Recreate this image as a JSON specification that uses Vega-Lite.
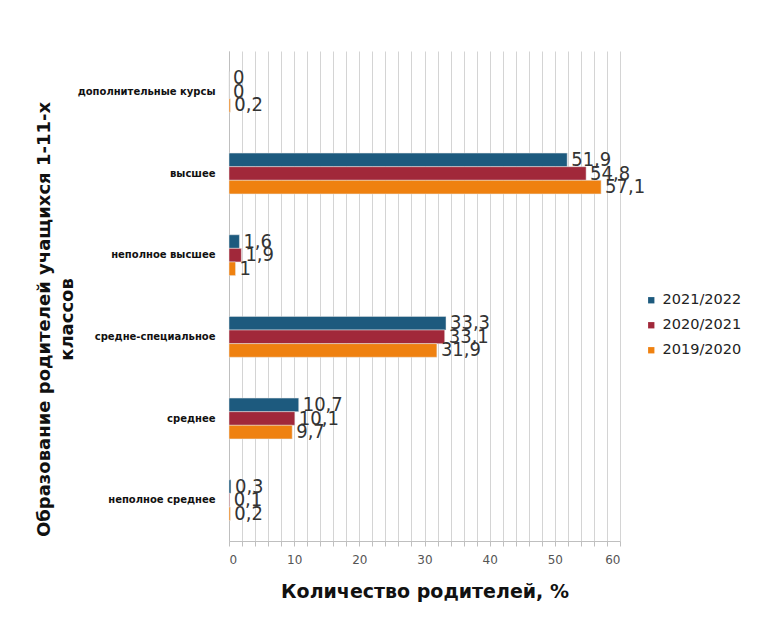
{
  "$schema": "https://vega.github.io/schema/vega-lite/v6.json",
  "width": 391,
  "height": 490,
  "autosize": {"type": "none"},
  "padding": {"left": 229, "top": 51, "right": 138, "bottom": 87},
  "background": "white",
  "config": {
    "locale": {"number": {"decimal": ",", "thousands": " ", "grouping": [3], "currency": ["", ""]}},
    "view": {"stroke": null}
  },
  "data": {
    "values": [
      {"edu": "дополнительные  курсы", "year": "2021/2022", "value": 0},
      {"edu": "дополнительные  курсы", "year": "2020/2021", "value": 0},
      {"edu": "дополнительные  курсы", "year": "2019/2020", "value": 0.2},
      {"edu": "высшее", "year": "2021/2022", "value": 51.9},
      {"edu": "высшее", "year": "2020/2021", "value": 54.8},
      {"edu": "высшее", "year": "2019/2020", "value": 57.1},
      {"edu": "неполное  высшее", "year": "2021/2022", "value": 1.6},
      {"edu": "неполное  высшее", "year": "2020/2021", "value": 1.9},
      {"edu": "неполное  высшее", "year": "2019/2020", "value": 1},
      {"edu": "средне-специальное", "year": "2021/2022", "value": 33.3},
      {"edu": "средне-специальное", "year": "2020/2021", "value": 33.1},
      {"edu": "средне-специальное", "year": "2019/2020", "value": 31.9},
      {"edu": "среднее", "year": "2021/2022", "value": 10.7},
      {"edu": "среднее", "year": "2020/2021", "value": 10.1},
      {"edu": "среднее", "year": "2019/2020", "value": 9.7},
      {"edu": "неполное  среднее", "year": "2021/2022", "value": 0.3},
      {"edu": "неполное  среднее", "year": "2020/2021", "value": 0.1},
      {"edu": "неполное  среднее", "year": "2019/2020", "value": 0.2}
    ]
  },
  "encoding": {
    "y": {
      "field": "edu",
      "type": "nominal",
      "sort": ["дополнительные  курсы", "высшее", "неполное  высшее", "средне-специальное", "среднее", "неполное  среднее"],
      "scale": {"paddingInner": 0.5, "paddingOuter": 0.25},
      "axis": {
        "title": ["Образование родителей учащихся 1-11-х", "классов"],
        "titleFont": "DejaVu Sans",
        "titleFontSize": 18,
        "titleFontWeight": "bold",
        "titleColor": "#111111",
        "titleAngle": -90,
        "titleAlign": "center",
        "titleBaseline": "top",
        "titleX": -194,
        "titleY": 268,
        "titleLineHeight": 23,
        "labelFont": "DejaVu Sans",
        "labelFontSize": 10,
        "labelFontWeight": "bold",
        "labelColor": "#111111",
        "labelPadding": 14,
        "ticks": false,
        "domain": true,
        "domainColor": "#bfbfbf",
        "grid": false
      }
    },
    "yOffset": {"field": "year", "sort": ["2021/2022", "2020/2021", "2019/2020"]},
    "x": {
      "field": "value",
      "type": "quantitative",
      "scale": {"domain": [0, 60], "nice": false},
      "axis": {
        "title": "Количество родителей, %",
        "titleFont": "DejaVu Sans",
        "titleFontSize": 19,
        "titleFontWeight": "bold",
        "titleColor": "#111111",
        "titleBaseline": "alphabetic",
        "titleY": 56,
        "values": [0, 2, 4, 6, 8, 10, 12, 14, 16, 18, 20, 22, 24, 26, 28, 30, 32, 34, 36, 38, 40, 42, 44, 46, 48, 50, 52, 54, 56, 58, 60],
        "labelExpr": "datum.value % 10 === 0 ? datum.label : ''",
        "labelFont": "DejaVu Sans",
        "labelFontSize": 12,
        "labelColor": "#555555",
        "labelPadding": 8,
        "tickColor": "#bfbfbf",
        "tickSize": 5,
        "domainColor": "#bfbfbf",
        "grid": true,
        "gridColor": "#d4d4d4"
      }
    }
  },
  "layer": [
    {
      "mark": {"type": "bar", "stroke": "#e8e8e8", "strokeWidth": 0.5},
      "encoding": {
        "color": {
          "field": "year",
          "type": "nominal",
          "scale": {"domain": ["2021/2022", "2020/2021", "2019/2020"], "range": ["#1d5a7e", "#a1283a", "#ef8110"]},
          "legend": {
            "title": null,
            "orient": "none",
            "legendX": 415,
            "legendY": 242,
            "symbolType": "square",
            "symbolSize": 40,
            "symbolStrokeWidth": 0,
            "labelFont": "DejaVu Sans",
            "labelFontSize": 14.5,
            "labelColor": "#222222",
            "rowPadding": 10,
            "labelOffset": 4
          }
        }
      }
    },
    {
      "mark": {"type": "text", "align": "left", "baseline": "middle", "dx": 4, "font": "Liberation Sans Narrow, DejaVu Sans Condensed, DejaVu Sans", "fontSize": 20, "color": "#333333"},
      "encoding": {"text": {"field": "value", "type": "quantitative", "format": ".1~f"}}
    }
  ]
}
